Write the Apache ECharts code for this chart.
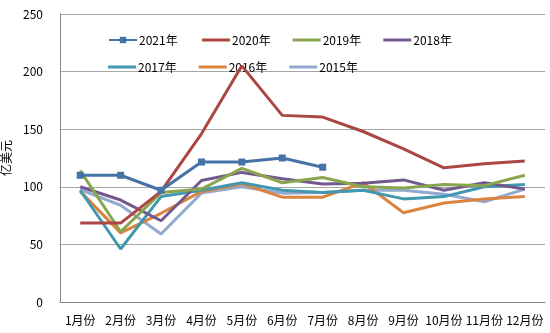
<!DOCTYPE html>
<html><head><meta charset="utf-8">
<script src="https://cdn.jsdelivr.net/npm/echarts@6/dist/echarts.min.js"></script>
<style>html,body{margin:0;padding:0;background:#fff}#c{width:550px;height:333px}</style>
</head><body><div id="c"></div>
<script>
var categories = ['1月份','2月份','3月份','4月份','5月份','6月份','7月份','8月份','9月份','10月份','11月份','12月份'];
var yTicks = [0, 50, 100, 150, 200, 250];
var s2021 = [110, 110, 97, 121.5, 121.5, 125, 117, null, null, null, null, null];
var s2020 = [68.5, 68.5, 96, 146, 205, 162, 160.5, 148, 133, 116.5, 120, 122.5];
var s2019 = [114, 61, 95, 98, 116, 103.5, 108, 100, 99, 102, 101, 110];
var s2018 = [100, 88.5, 70.5, 105.5, 112.5, 107, 102.5, 103, 106, 97, 103.5, 98];
var s2017 = [97, 46, 91.5, 97, 103.5, 97, 95, 97, 89.5, 91.5, 100, 102];
var s2016 = [96, 60, 77, 96, 102.5, 91, 91, 103.5, 77.5, 86, 89.5, 91.5];
var s2015 = [97.5, 84, 59, 94.5, 100, 94.5, 95, 97, 97, 93.5, 87, 98];

var names = ['2021年','2020年','2019年','2018年','2017年','2016年','2015年'];
var colors = ['#4572A7','#AA4643','#89A54E','#71588F','#4198AF','#DB843D','#93A9CF'];
var datas = [s2021, s2020, s2019, s2018, s2017, s2016, s2015];
var font = '"Noto Sans CJK SC", "DejaVu Sans", sans-serif';

var series = [];
for (var i = datas.length - 1; i >= 0; i--) {
  series.push({
    name: names[i], type: 'line', data: datas[i],
    symbol: i === 0 ? 'rect' : 'none', symbolSize: 7, showSymbol: i === 0,
    lineStyle: {width: 3, color: colors[i]}, itemStyle: {color: colors[i]},
    z: 10 - i, animation: false
  });
}
var legendText = {fontFamily: font, fontSize: 12, color: '#000', padding: [0,0,0,-3]};
var chart = echarts.init(document.getElementById('c'));
chart.setOption({
  animation: false,
  legend: [
    {data: [names[0]], left: 103, top: 29, itemWidth: 28, itemHeight: 8, itemGap: 22, textStyle: legendText},
    {data: names.slice(1,4), left: 197, top: 29, icon: 'rect', itemWidth: 28, itemHeight: 3, itemGap: 22, textStyle: legendText},
    {data: names.slice(4), left: 103, top: 56, icon: 'rect', itemWidth: 28, itemHeight: 3, itemGap: 22, textStyle: legendText}
  ],
  grid: {left: 60, right: 5, top: 14, bottom: 31, containLabel: false, outerBoundsMode: 'none'},
  xAxis: {
    type: 'category', data: categories, boundaryGap: true,
    axisLine: {lineStyle: {color: '#888'}}, axisTick: {show: false},
    axisLabel: {fontFamily: font, fontSize: 12, color: '#000', margin: 12, interval: 0}
  },
  yAxis: {
    type: 'value', min: yTicks[0], max: yTicks[yTicks.length-1], interval: 50,
    name: '亿美元', nameLocation: 'middle', nameGap: 40, nameRotate: 90,
    nameTextStyle: {fontFamily: font, fontSize: 12, color: '#000'},
    axisLine: {show: true, lineStyle: {color: '#888'}}, axisTick: {show: false},
    axisLabel: {fontFamily: font, fontSize: 12, color: '#000', margin: 17},
    splitLine: {lineStyle: {color: '#a6a6a6'}}
  },
  series: series
});
</script></body></html>
